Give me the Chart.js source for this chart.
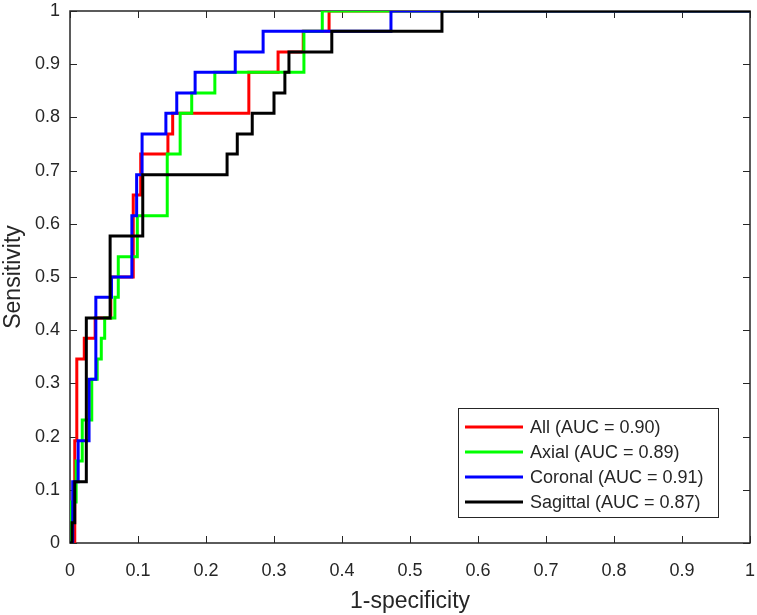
<!DOCTYPE html>
<html>
<head>
<meta charset="utf-8">
<script src="https://cdn.jsdelivr.net/npm/chart.js@4/dist/chart.umd.min.js"></script>
<style>
  html, body { margin: 0; padding: 0; background: #fff; }
  canvas { display: block; }
</style>
</head>
<body>
<canvas id="roc" width="757" height="615"></canvas>
<script>
// ROC curves: false positive rate (1-specificity) vs sensitivity
const seriesLabels = ['All (AUC = 0.90)', 'Axial (AUC = 0.89)', 'Coronal (AUC = 0.91)', 'Sagittal (AUC = 0.87)'];

const allFpr = [0, 0.007, 0.007, 0.010, 0.010, 0.021, 0.021, 0.037, 0.037, 0.060, 0.060, 0.093, 0.093, 0.104, 0.104, 0.144, 0.144, 0.151, 0.151, 0.263, 0.263, 0.306, 0.306, 0.343, 0.343, 0.381, 0.381, 1];
const allTpr = [0, 0, 0.192, 0.192, 0.346, 0.346, 0.385, 0.385, 0.423, 0.423, 0.500, 0.500, 0.654, 0.654, 0.731, 0.731, 0.769, 0.769, 0.808, 0.808, 0.885, 0.885, 0.923, 0.923, 0.962, 0.962, 1, 1];

const axialFpr = [0, 0.002, 0.002, 0.009, 0.009, 0.018, 0.018, 0.032, 0.032, 0.040, 0.040, 0.046, 0.046, 0.051, 0.051, 0.066, 0.066, 0.071, 0.071, 0.099, 0.099, 0.143, 0.143, 0.162, 0.162, 0.179, 0.179, 0.213, 0.213, 0.344, 0.344, 0.371, 0.371, 1];
const axialTpr = [0, 0, 0.077, 0.077, 0.154, 0.154, 0.231, 0.231, 0.308, 0.308, 0.346, 0.346, 0.385, 0.385, 0.423, 0.423, 0.462, 0.462, 0.538, 0.538, 0.615, 0.615, 0.731, 0.731, 0.808, 0.808, 0.846, 0.846, 0.885, 0.885, 0.962, 0.962, 1, 1];

const coronalFpr = [0, 0.004, 0.004, 0.012, 0.012, 0.028, 0.028, 0.038, 0.038, 0.061, 0.061, 0.091, 0.091, 0.098, 0.098, 0.106, 0.106, 0.141, 0.141, 0.157, 0.157, 0.184, 0.184, 0.243, 0.243, 0.284, 0.284, 0.472, 0.472, 1];
const coronalTpr = [0, 0, 0.115, 0.115, 0.192, 0.192, 0.308, 0.308, 0.462, 0.462, 0.500, 0.500, 0.615, 0.615, 0.692, 0.692, 0.769, 0.769, 0.808, 0.808, 0.846, 0.846, 0.885, 0.885, 0.923, 0.923, 0.962, 0.962, 1, 1];

const sagittalFpr = [0, 0.003, 0.003, 0.007, 0.007, 0.024, 0.024, 0.059, 0.059, 0.107, 0.107, 0.231, 0.231, 0.246, 0.246, 0.268, 0.268, 0.300, 0.300, 0.316, 0.316, 0.322, 0.322, 0.385, 0.385, 0.547, 0.547, 1];
const sagittalTpr = [0, 0, 0.038, 0.038, 0.115, 0.115, 0.423, 0.423, 0.577, 0.577, 0.692, 0.692, 0.731, 0.731, 0.769, 0.769, 0.808, 0.808, 0.846, 0.846, 0.885, 0.885, 0.923, 0.923, 0.962, 0.962, 1, 1];

const xTickLabels = ['0', '0.1', '0.2', '0.3', '0.4', '0.5', '0.6', '0.7', '0.8', '0.9', '1'];
const yTickLabels = ['0', '0.1', '0.2', '0.3', '0.4', '0.5', '0.6', '0.7', '0.8', '0.9', '1'];
const xTitle = '1-specificity';
const yTitle = 'Sensitivity';

// matlab default-ish colours
const lineColors = ['#ff0000', '#00ff00', '#0000ff', '#000000'];
const axisColor = '#262626';
const fontFamily = '"Liberation Sans", Arial, Helvetica, sans-serif';

function toPoints(fpr, tpr) {
  return fpr.map((x, i) => ({ x: x, y: tpr[i] }));
}

const curves = [
  toPoints(allFpr, allTpr),
  toPoints(axialFpr, axialTpr),
  toPoints(coronalFpr, coronalTpr),
  toPoints(sagittalFpr, sagittalTpr)
];

// box round the axes plus inward ticks on all four sides
const matlabBox = {
  id: 'matlabBox',
  beforeDatasetsDraw(chart) {
    const { ctx, chartArea: a, scales } = chart;
    const tickLen = 7;
    ctx.save();
    ctx.strokeStyle = axisColor;
    ctx.lineWidth = 1;
    ctx.beginPath();
    scales.x.ticks.forEach(t => {
      const px = Math.round(scales.x.getPixelForValue(t.value)) + 0.5;
      ctx.moveTo(px, a.bottom); ctx.lineTo(px, a.bottom - tickLen);
      ctx.moveTo(px, a.top); ctx.lineTo(px, a.top + tickLen);
    });
    scales.y.ticks.forEach(t => {
      const py = Math.round(scales.y.getPixelForValue(t.value)) + 0.5;
      ctx.moveTo(a.left, py); ctx.lineTo(a.left + tickLen, py);
      ctx.moveTo(a.right, py); ctx.lineTo(a.right - tickLen, py);
    });
    ctx.stroke();
    ctx.lineWidth = 1.5;
    ctx.strokeRect(a.left, a.top, a.right - a.left, a.bottom - a.top);
    ctx.restore();
  }
};

// legend box inside the lower right of the axes, like matlab's 'Location','southeast'
const insideLegend = {
  id: 'insideLegend',
  afterDatasetsDraw(chart) {
    const { ctx, chartArea: a } = chart;
    const w = 260, rowH = 25, h = 109;
    const left = a.right - 292, top = a.bottom - 26 - h;
    ctx.save();
    ctx.fillStyle = '#ffffff';
    ctx.fillRect(left, top, w, h);
    ctx.strokeStyle = axisColor;
    ctx.lineWidth = 1;
    ctx.strokeRect(left + 0.5, top + 0.5, w, h);
    ctx.font = '18px ' + fontFamily;
    ctx.textBaseline = 'middle';
    chart.data.datasets.forEach((ds, i) => {
      const cy = top + 19 + i * rowH;
      ctx.strokeStyle = ds.borderColor;
      ctx.lineWidth = 3;
      ctx.beginPath();
      ctx.moveTo(left + 7, cy);
      ctx.lineTo(left + 65, cy);
      ctx.stroke();
      ctx.fillStyle = axisColor;
      ctx.fillText(ds.label, left + 72, cy + 1);
    });
    ctx.restore();
  }
};

const ctx = document.getElementById('roc');

new Chart(ctx, {
  type: 'line',
  data: {
    datasets: curves.map((pts, i) => ({
      label: seriesLabels[i],
      data: pts,
      borderColor: lineColors[i],
      backgroundColor: lineColors[i],
      borderWidth: 3,
      pointRadius: 0,
      fill: false,
      tension: 0,
      borderJoinStyle: 'miter',
      // later series sit on top, as in the plot
      order: curves.length - i
    }))
  },
  options: {
    responsive: false,
    animation: false,
    devicePixelRatio: 1,
    layout: { padding: { left: 0, right: 7, top: 11, bottom: 0 } },
    plugins: {
      legend: { display: false },
      tooltip: { enabled: false }
    },
    scales: {
      x: {
        type: 'linear',
        min: 0,
        max: 1,
        grid: { display: false, drawTicks: false },
        border: { display: false },
        ticks: {
          stepSize: 0.1,
          autoSkip: false,
          maxRotation: 0,
          padding: 17,
          color: axisColor,
          font: { family: fontFamily, size: 18 },
          callback: (value, index) => xTickLabels[index]
        },
        title: {
          display: true,
          text: xTitle,
          color: axisColor,
          font: { family: fontFamily, size: 23 },
          padding: 0
        },
        // keep the plot box where the layout padding puts it
        afterFit: scale => {
          scale.height = 72;
          scale.paddingLeft = 0;
          scale.paddingRight = 0;
        }
      },
      y: {
        type: 'linear',
        min: 0,
        max: 1,
        grid: { display: false, drawTicks: false },
        border: { display: false },
        ticks: {
          stepSize: 0.1,
          autoSkip: false,
          padding: 10,
          color: axisColor,
          font: { family: fontFamily, size: 18 },
          callback: (value, index) => yTickLabels[index]
        },
        title: {
          display: true,
          text: yTitle,
          color: axisColor,
          font: { family: fontFamily, size: 23 },
          padding: 0
        },
        afterFit: scale => {
          scale.width = 70;
          scale.paddingTop = 0;
          scale.paddingBottom = 0;
        }
      }
    }
  },
  plugins: [matlabBox, insideLegend]
});
</script>
</body>
</html>
